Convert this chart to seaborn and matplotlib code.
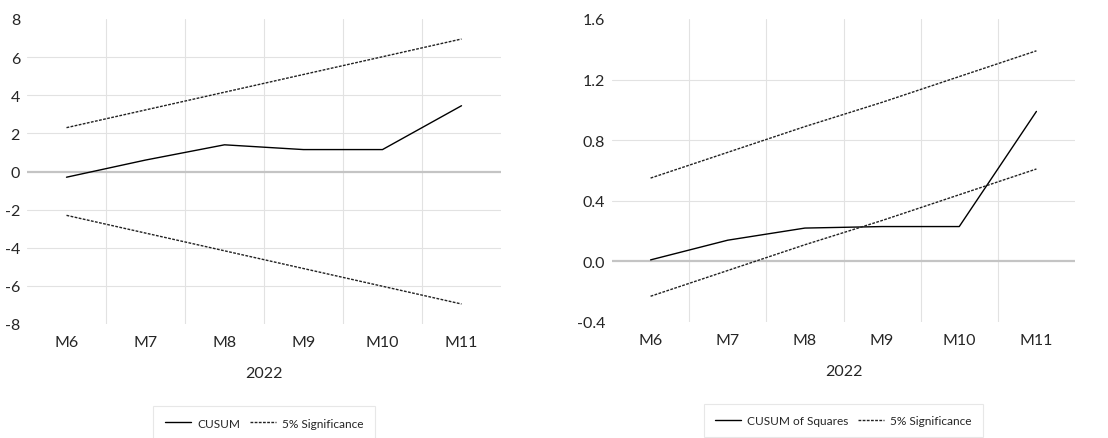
import matplotlib
matplotlib.use("Agg")
import matplotlib.pyplot as plt
import numpy as np
import pandas as pd
import seaborn as sns
from matplotlib.ticker import FixedLocator, FormatStrFormatter

# Months on the horizontal axis
months = ["M6", "M7", "M8", "M9", "M10", "M11"]
year_label = "2022"

# CUSUM test
cusum = [-0.3, 0.6, 1.4, 1.15, 1.15, 3.45]
cusum_upper = [2.3, 3.23, 4.16, 5.09, 6.02, 6.95]
cusum_lower = [-2.3, -3.23, -4.16, -5.09, -6.02, -6.95]
cusum_ticks = [-8, -6, -4, -2, 0, 2, 4, 6, 8]

# CUSUM of squares test
cusumsq = [0.01, 0.14, 0.22, 0.23, 0.23, 0.99]
cusumsq_upper = [0.55, 0.72, 0.89, 1.05, 1.22, 1.39]
cusumsq_lower = [-0.23, -0.06, 0.11, 0.27, 0.44, 0.61]
cusumsq_ticks = [-0.4, 0.0, 0.4, 0.8, 1.2, 1.6]

sns.set_theme(style="white")
plt.rcParams["font.family"] = ["Lato", "DejaVu Sans"]
plt.rcParams["axes.unicode_minus"] = False

TEXT = "#262626"
GRID = "#e2e2e2"
ZERO = "#c4c4c4"

fig = plt.figure(figsize=(11.08, 4.39), dpi=100)
W, H = 1108, 439


def make_axes(x0, x1, y0, y1):
    return fig.add_axes([x0 / W, 1 - y1 / H, (x1 - x0) / W, (y1 - y0) / H])


def draw_panel(ax, stat, upper, lower, stat_name, ticks, fmt):
    pos = np.arange(len(months))
    sns.lineplot(x=pos, y=stat, ax=ax, color="black", lw=1.0, label=stat_name)
    sns.lineplot(x=pos, y=upper, ax=ax, color="#222222", lw=1.0,
                 dashes=(2.0, 1.0), label="5% Significance")
    sns.lineplot(x=pos, y=lower, ax=ax, color="#222222", lw=1.0,
                 dashes=(2.0, 1.0), label="_nolegend_")

    ax.set_xlim(-0.5, len(months) - 0.5)
    ax.set_ylim(ticks[0], ticks[-1])

    # vertical separators between months
    for xb in np.arange(0.5, len(months) - 0.5, 1.0):
        ax.axvline(xb, color=GRID, lw=0.8, zorder=0)
    # horizontal gridlines (inner ticks only)
    for yt in ticks[1:-1]:
        if yt == 0:
            ax.axhline(0, color=ZERO, lw=1.6, zorder=0.5)
        else:
            ax.axhline(yt, color=GRID, lw=0.8, zorder=0)

    ax.set_xticks(pos)
    ax.set_xticklabels(months)
    ax.yaxis.set_major_locator(FixedLocator(ticks))
    ax.yaxis.set_major_formatter(FormatStrFormatter(fmt))
    ax.tick_params(axis="both", length=0, labelsize=11.5, labelcolor=TEXT)
    ax.tick_params(axis="x", pad=8)
    ax.tick_params(axis="y", pad=5)
    for s in ax.spines.values():
        s.set_visible(False)
    ax.grid(False)
    ax.set_xlabel(year_label, fontsize=11.5, color=TEXT, labelpad=12)
    ax.set_ylabel("")

    leg = ax.legend(loc="upper center", bbox_to_anchor=(0.5, -0.25), ncol=2,
                    frameon=True, fancybox=False, fontsize=8.6,
                    handlelength=2.2, columnspacing=0.8, handletextpad=0.5,
                    borderpad=0.95, labelcolor=TEXT)
    leg.get_frame().set_edgecolor(GRID)
    leg.get_frame().set_linewidth(0.8)


ax1 = make_axes(27, 501, 20, 325)
draw_panel(ax1, cusum, cusum_upper, cusum_lower, "CUSUM", cusum_ticks, "%d")

ax2 = make_axes(612, 1075, 20, 323)
draw_panel(ax2, cusumsq, cusumsq_upper, cusumsq_lower, "CUSUM of Squares",
           cusumsq_ticks, "%.1f")

fig.savefig("out.png", dpi=100, facecolor="white")
